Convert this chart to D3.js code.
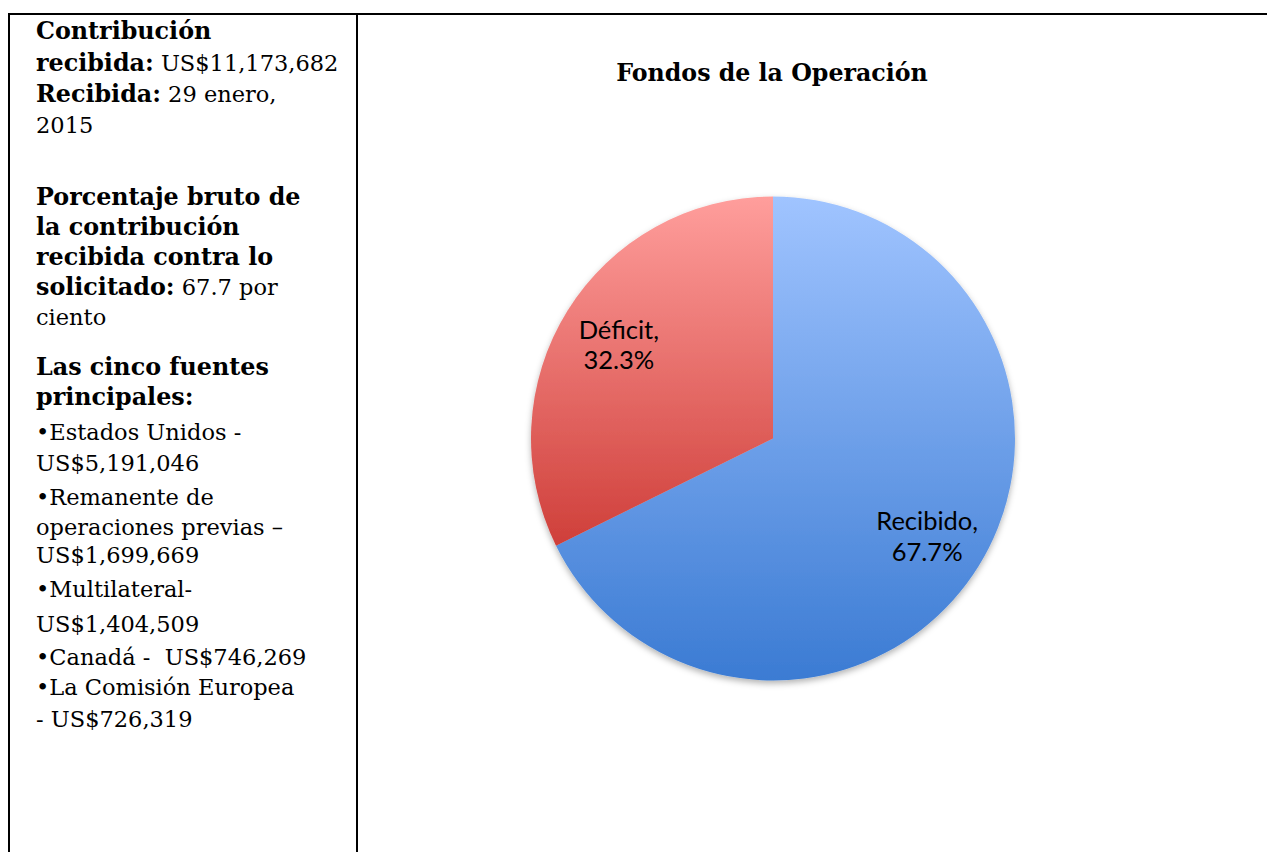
<!DOCTYPE html>
<html>
<head>
<meta charset="utf-8">
<script src="https://cdn.jsdelivr.net/npm/d3@7"></script>
<style>
  body { margin: 0; background: #fff; }
  text { white-space: pre; }
</style>
</head>
<body>
<div id="chart"></div>
<script>
// pie data
const categories = ["Recibido", "Déficit"];
const values = [67.7, 32.3];
const title = "Fondos de la Operación";

// left column text: [bold part, normal part]
const sideLines = [
    ["Contribución", ""],
    ["recibida:", " US$11,173,682"],
    ["Recibida:", " 29 enero,"],
    ["", "2015"],
    ["Porcentaje bruto de", ""],
    ["la contribución", ""],
    ["recibida contra lo", ""],
    ["solicitado:", " 67.7 por"],
    ["", "ciento"],
    ["Las cinco fuentes", ""],
    ["principales:", ""],
    ["", "•Estados Unidos -"],
    ["", "US$5,191,046"],
    ["", "•Remanente de"],
    ["", "operaciones previas –"],
    ["", "US$1,699,669"],
    ["", "•Multilateral-"],
    ["", "US$1,404,509"],
    ["", "•Canadá -  US$746,269"],
    ["", "•La Comisión Europea"],
    ["", "- US$726,319"]
];
const sideBaselines = [39, 71, 102, 133, 205, 235, 265, 295, 325, 375, 405, 440, 471, 505, 535, 563, 597, 632, 665, 695, 727];

const W = 1267, H = 852;

const svg = d3.select("#chart")
    .append("svg")
    .attr("width", W)
    .attr("height", H);

const defs = svg.append("defs");

const grads = [
    { id: "gBlue", top: "#a0c4ff", bottom: "#3b7bd3" },
    { id: "gRed", top: "#ff9e9c", bottom: "#cf3f3a" }
];
grads.forEach(g => {
    const lg = defs.append("linearGradient")
        .attr("id", g.id)
        .attr("x1", 0).attr("y1", 0)
        .attr("x2", 0).attr("y2", 1);
    lg.append("stop").attr("offset", "0%").attr("stop-color", g.top);
    lg.append("stop").attr("offset", "100%").attr("stop-color", g.bottom);
});

const shadow = defs.append("filter").attr("id", "shadow")
    .attr("x", "-10%").attr("y", "-10%").attr("width", "120%").attr("height", "125%");
shadow.append("feDropShadow")
    .attr("dx", 0).attr("dy", 3)
    .attr("stdDeviation", 3)
    .attr("flood-color", "#000")
    .attr("flood-opacity", 0.3);

// table borders
svg.append("line").attr("x1", 8).attr("x2", W).attr("y1", 14).attr("y2", 14)
    .attr("stroke", "#000").attr("stroke-width", 2);
svg.append("line").attr("x1", 9).attr("x2", 9).attr("y1", 13).attr("y2", H)
    .attr("stroke", "#000").attr("stroke-width", 2);
svg.append("line").attr("x1", 357).attr("x2", 357).attr("y1", 13).attr("y2", H)
    .attr("stroke", "#000").attr("stroke-width", 2);

// left column
const side = svg.append("g")
    .attr("font-family", "'DejaVu Serif', Georgia, serif")
    .attr("font-size", 22.5)
    .attr("fill", "#000");

sideLines.forEach((d, i) => {
    const t = side.append("text")
        .attr("x", 36)
        .attr("y", sideBaselines[i]);
    if (d[0]) t.append("tspan").attr("font-weight", "bold").attr("font-size", 23.8).text(d[0]);
    if (d[1]) t.append("tspan").text(d[1]);
});

// chart title
svg.append("text")
    .attr("x", 772)
    .attr("y", 81)
    .attr("text-anchor", "middle")
    .attr("font-family", "'DejaVu Serif', Georgia, serif")
    .attr("font-weight", "bold")
    .attr("font-size", 23.7)
    .text(title);

// pie
const cx = 773, cy = 438.5, r = 242;
const g = svg.append("g").attr("transform", `translate(${cx},${cy})`);

const pie = d3.pie().sort(null).value(d => d);
const arc = d3.arc().innerRadius(0).outerRadius(r);
const labelArc = d3.arc().innerRadius(r * 0.75).outerRadius(r * 0.75);

const color = d3.scaleOrdinal().domain(categories).range(["url(#gBlue)", "url(#gRed)"]);

const arcs = pie(values);

g.append("g").attr("filter", "url(#shadow)")
    .selectAll("path")
    .data(arcs)
    .enter().append("path")
    .attr("d", arc)
    .attr("fill", (d, i) => color(categories[i]));

const labels = g.selectAll("text.lbl")
    .data(arcs)
    .enter().append("text")
    .attr("class", "lbl")
    .attr("transform", d => `translate(${labelArc.centroid(d)})`)
    .attr("text-anchor", "middle")
    .attr("font-family", "Lato, 'Noto Sans', sans-serif")
    .attr("font-size", 25.5)
    .attr("fill", "#000");

labels.append("tspan")
    .attr("x", 0).attr("dy", "-0.15em")
    .text((d, i) => categories[i] + ",");
labels.append("tspan")
    .attr("x", 0).attr("dy", "1.2em")
    .text((d, i) => d3.format(".1f")(values[i]) + "%");
</script>
</body>
</html>
